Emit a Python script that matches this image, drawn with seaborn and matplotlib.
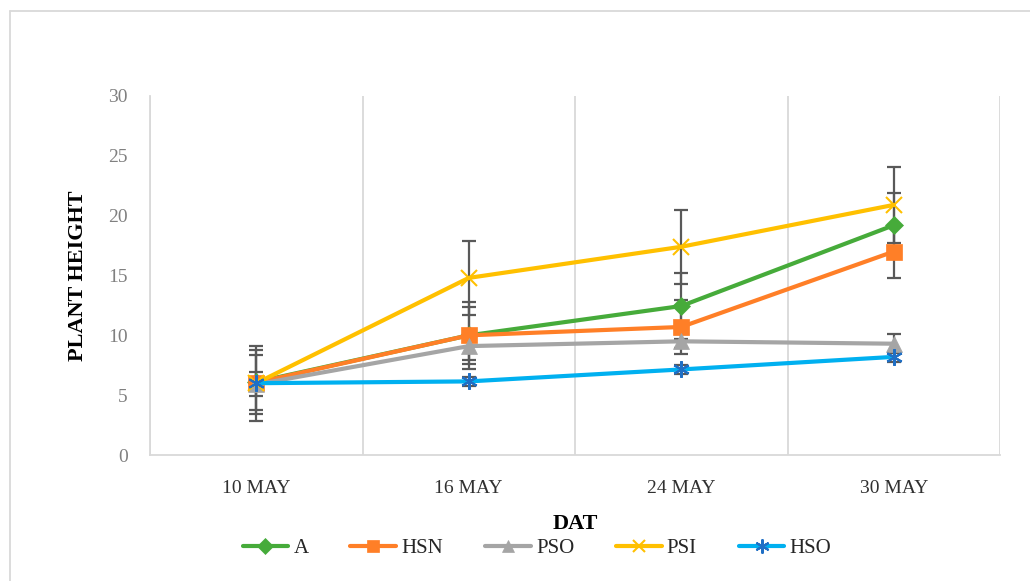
import seaborn as sns
import pandas as pd
import matplotlib.pyplot as plt
import numpy as np
from matplotlib.lines import Line2D


sns.set_theme(style='white')
plt.rcParams['font.family'] = ['Liberation Serif', 'DejaVu Serif']

dates = ['10 MAY', '16 MAY', '24 MAY', '30 MAY']
series = ['A', 'HSN', 'PSO', 'PSI', 'HSO']

a_vals = [6.1, 10.0, 12.45, 19.2]
hsn_vals = [6.05, 10.0, 10.7, 17.0]
pso_vals = [5.9, 9.1, 9.5, 9.3]
psi_vals = [6.0, 14.8, 17.4, 20.9]
hso_vals = [6.0, 6.15, 7.15, 8.2]

a_err = [2.7, 2.8, 2.75, 2.7]
hsn_err = [2.3, 2.4, 2.25, 2.2]
pso_err = [1.0, 1.2, 0.6, 0.8]
psi_err = [3.15, 3.1, 3.1, 3.2]
hso_err = [0.3, 0.4, 0.4, 0.4]

colors = ['#46AB3A', '#FF7F27', '#A5A5A5', '#FFC000', '#00B0F0']
marker_colors = ['#46AB3A', '#FF7F27', '#A5A5A5', '#FFC000', '#1F6FC5']
markers = ['D', 's', '^', 'x', (6, 2, 0)]
msizes = [9, 11, 11, 11, 12]

vals = [a_vals, hsn_vals, pso_vals, psi_vals, hso_vals]
errs = [a_err, hsn_err, pso_err, psi_err, hso_err]

pos = np.arange(len(dates))
df = pd.DataFrame({'DAT': np.tile(pos, len(series)),
                   'Series': np.repeat(series, len(dates)),
                   'Height': np.concatenate(vals),
                   'Err': np.concatenate(errs)})

fig = plt.figure(figsize=(10.30, 5.81), dpi=100)
ax = fig.add_axes([150 / 1030, 1 - 455 / 581, 850 / 1030, 359 / 581])

for i, name in enumerate(series):
    d = df[df['Series'] == name]
    ax.errorbar(d['DAT'], d['Height'], yerr=d['Err'], fmt='none', ecolor='#595959',
                elinewidth=1.6, capsize=5, capthick=1.6, zorder=2)
    sns.lineplot(data=d, x='DAT', y='Height', ax=ax, color=colors[i], linewidth=3,
                 marker=markers[i], markersize=msizes[i], markerfacecolor=marker_colors[i],
                 markeredgecolor=marker_colors[i], markeredgewidth=1.5 if i >= 3 else 0.5,
                 label=name, zorder=3, legend=False)

ax.set_xlim(-0.5, 3.5)
ax.set_ylim(0, 30)
ax.set_yticks(range(0, 31, 5))
ax.set_xticks(pos)
ax.set_xticklabels(dates)
ax.set_xticks(np.arange(-0.5, 3.6, 1), minor=True)
ax.grid(False)
ax.grid(which='minor', axis='x', color='#D9D9D9', linewidth=1.3)
ax.tick_params(axis='x', which='both', length=0, pad=18, labelsize=14, labelcolor='#303030')
ax.tick_params(axis='y', length=0, pad=16, labelsize=14, labelcolor='#808080')

for s in ['top', 'right']:
    ax.spines[s].set_visible(False)
for s in ['left', 'bottom']:
    ax.spines[s].set_color('#D9D9D9')
    ax.spines[s].set_linewidth(1.3)

ax.set_ylabel('PLANT HEIGHT', fontsize=16, fontweight='bold', color='black')
ax.yaxis.set_label_coords(-0.073, 0.5)
ax.set_xlabel('DAT', fontsize=16, fontweight='bold', color='black')
ax.xaxis.set_label_coords(0.5, -0.165)

handles = [Line2D([0], [0], color=colors[i], linewidth=3, marker=markers[i],
                  markersize=msizes[i] * 0.85, markerfacecolor=marker_colors[i],
                  markeredgecolor=marker_colors[i], markeredgewidth=1.5 if i >= 3 else 0.5)
           for i in range(len(series))]
fig.legend(handles, series, loc='center', bbox_to_anchor=(537 / 1030, 1 - 548 / 581),
           ncol=5, frameon=False, fontsize=15, handlelength=2.2, handletextpad=0.25,
           columnspacing=2.0)

fig.add_artist(Line2D([10 / 1030, 10 / 1030], [0, 1 - 11 / 581], transform=fig.transFigure,
                      color='#D9D9D9', linewidth=1.3))
fig.add_artist(Line2D([10 / 1030, 1], [1 - 11 / 581, 1 - 11 / 581], transform=fig.transFigure,
                      color='#D9D9D9', linewidth=1.3))

fig.savefig('out.png', dpi=100)
